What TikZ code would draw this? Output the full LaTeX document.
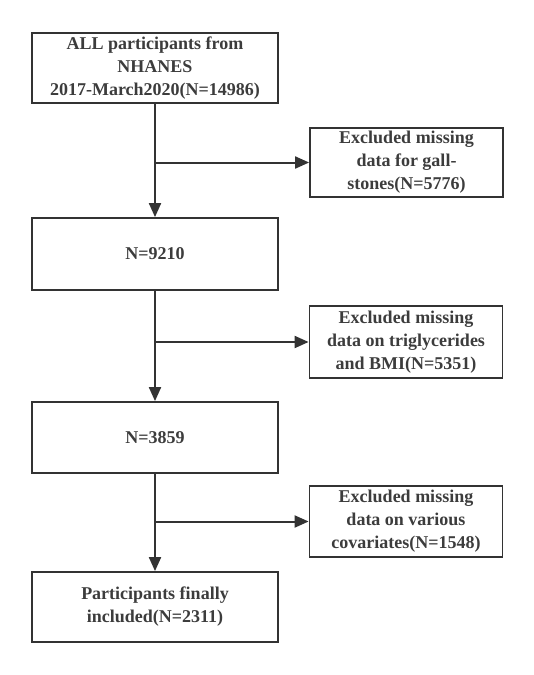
\documentclass[tikz,border=0pt]{standalone}
\usepackage{fontspec}
\setmainfont{Liberation Serif}
\usepackage{tikz}
\usetikzlibrary{arrows.meta,positioning,calc}
\definecolor{flowgray}{RGB}{51,51,51}
\definecolor{flowtext}{RGB}{60,60,60}

\begin{document}
\begin{tikzpicture}[x=1pt,y=-1pt,
    mainbox/.style={draw=flowgray,line width=1.8pt,minimum width=246pt,minimum height=70pt,
      align=center,text=flowtext,font=\fontsize{18}{23}\selectfont\bfseries},
    sidebox/.style={mainbox,minimum width=193pt},
    flowarrow/.style={-{Triangle[length=14pt,width=12pt]},line width=2pt,color=flowgray}]
    % bounding box of the reference
    \useasboundingbox (0,0) rectangle (534,675);
    % main column
    \node[mainbox] (all) at (155,68) {ALL participants from\\NHANES\\2017-March2020(N=14986)};
    \node[mainbox,minimum height=72pt] (n9210) at (155,254) {N=9210};
    \node[mainbox,minimum height=71pt] (n3859) at (155,437.5) {N=3859};
    \node[mainbox] (final) at (155,607) {Participants finally\\included(N=2311)};
    % exclusions
    \node[sidebox,minimum height=69pt] (exgall) at (406.5,162.5) {Excluded missing\\data for gall-\\stones(N=5776)};
    \node[sidebox,minimum height=72pt] (extg) at (406,342) {Excluded missing\\data on triglycerides\\and BMI(N=5351)};
    \node[sidebox,minimum height=71pt] (excov) at (406,521.5) {Excluded missing\\data on various\\covariates(N=1548)};
    % connectors
    \draw[flowarrow] (all.south) -- (n9210.north);
    \draw[flowarrow] (n9210.south) -- (n3859.north);
    \draw[flowarrow] (n3859.south) -- (final.north);
    \draw[flowarrow] (all.south |- exgall.west) -- (exgall.west);
    \draw[flowarrow] (n9210.south |- extg.west) -- (extg.west);
    \draw[flowarrow] (n3859.south |- excov.west) -- (excov.west);
\end{tikzpicture}
\end{document}
